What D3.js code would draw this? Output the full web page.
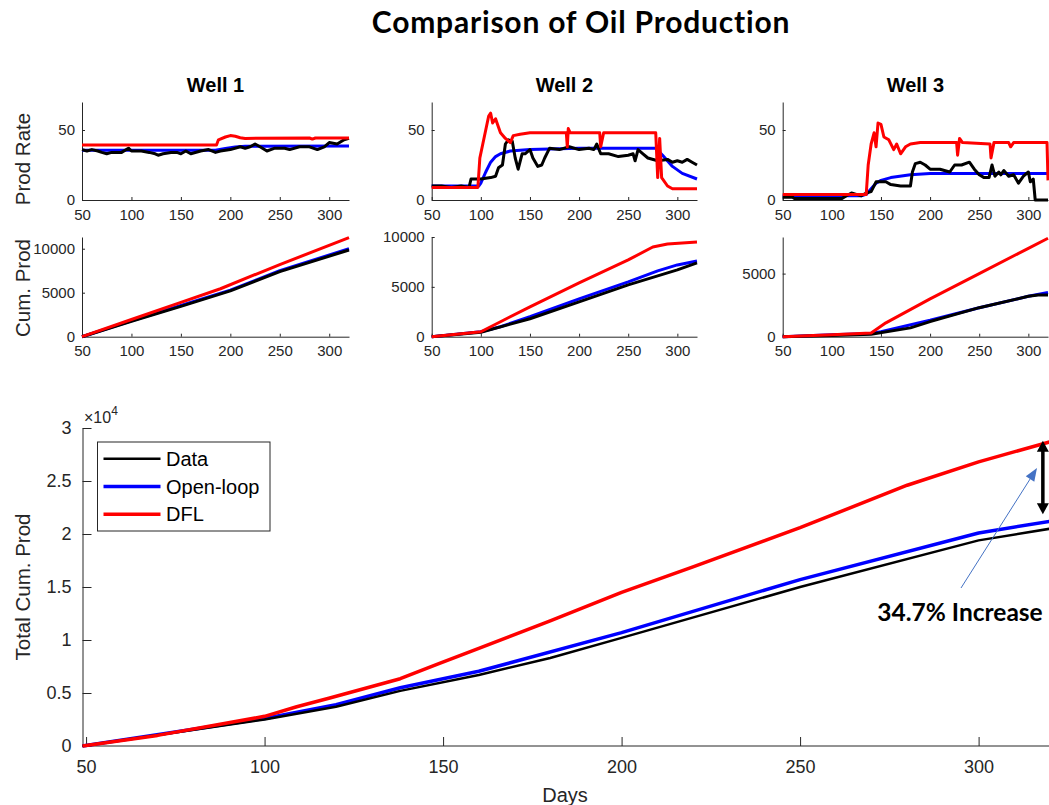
<!DOCTYPE html>
<html>
<head>
<meta charset="utf-8">
<script src="https://cdn.jsdelivr.net/npm/d3@7"></script>
<style>
body { margin: 0; background: #fff; }
text { font-family: "Liberation Sans", Arial, sans-serif; }
</style>
</head>
<body>
<div class="container"></div>
<script>
const wd = 1049
const ht = 805

// ---- data ----
const seriesNames = ["Data", "Open-loop", "DFL"]
const seriesCols = ["#000000", "#0000ff", "#ff0000"]
const wellNames = ["Well 1", "Well 2", "Well 3"]

// well 1 rate
const w1Data = [[50,36],[55,35],[60,36],[66,35],[70,34],[75,33],[80,34],[85,34],[90,34],[97,37],[100,35],[110,35],[118,34],[124,33],[127,32],[132,33],[140,34],[146,34],[150,33],[155,35],[160,33],[170,35],[178,36],[185,34],[190,35],[200,36],[210,38],[215,37],[220,38],[225,40],[230,38],[237,35],[245,37],[255,37],[260,36],[270,38],[280,38],[288,36],[295,38],[300,41],[308,40],[315,43],[320,44]]
const w1Open = [[50,35.5],[185,35.5],[195,36.8],[205,37.8],[215,38.4],[320,38.5]]
const w1Dfl = [[50,39.3],[186,39.3],[188,43],[195,45],[200,46],[205,45.5],[210,44.5],[215,44],[280,44.3],[283,43.5],[286,44.3],[320,44.3]]

// well 2 rate
const w2Data = [[50,10],[60,10],[70,9],[80,10],[88,9],[90,15],[100,15],[110,16],[115,17],[118,23],[122,25],[125,40],[128,43],[132,42],[135,30],[138,22],[142,33],[145,33],[150,36],[153,30],[158,24],[162,25],[165,30],[170,37],[180,36],[190,38],[200,36],[210,37],[215,36],[218,40],[222,33],[230,33],[240,31],[250,32],[255,33],[257,28],[260,36],[265,33],[270,30],[280,28],[290,29],[295,27],[300,28],[305,27],[310,29],[315,27],[320,25]]
const w2Open = [[50,10],[98,10],[100,12],[105,20],[110,27],[115,31],[120,33],[130,35],[150,36],[200,37],[278,37],[285,32],[295,24],[305,19],[320,15]]
const w2Dfl = [[50,9],[97,9],[99,30],[102,40],[105,50],[108,60],[110,62],[112,55],[115,58],[118,52],[120,48],[125,44],[130,41],[133,46],[140,47],[150,48],[187,48],[188,38],[189,51],[191,48],[221,48],[222,38],[225,48],[278,48],[280,16],[282,44],[284,16],[290,10],[295,8],[320,8]]

// well 3 rate
const w3Data = [[50,2],[60,2],[62,1],[80,1],[100,1],[110,1],[115,3],[120,5],[125,4],[130,3],[135,5],[140,6],[145,13],[155,13],[160,11],[170,10],[180,10],[182,20],[185,26],[190,27],[195,25],[200,22],[210,22],[220,20],[225,25],[232,25],[240,27],[245,22],[250,18],[255,16],[260,16],[263,25],[266,17],[270,20],[272,18],[275,21],[280,17],[285,18],[290,12],[295,17],[300,20],[302,13],[305,15],[307,0],[320,0]]
const w3Open = [[50,3],[130,3],[135,4],[140,8],[145,12],[150,14],[160,16],[180,18],[200,19],[320,19]]
const w3Dfl = [[50,4],[135,4],[137,25],[140,40],[143,48],[145,38],[147,55],[150,54],[153,45],[158,43],[163,36],[166,40],[170,33],[175,38],[180,40],[190,41],[227,41],[228,32],[230,44],[233,41],[261,40],[262,30],[265,41],[280,41],[282,38],[285,41],[319,41],[320,14]]

// cumulative per well
const c1Data = [[50,0],[100,1750],[150,3450],[200,5200],[250,7400],[320,9850]]
const c1Open = [[50,0],[100,1800],[150,3550],[200,5300],[250,7500],[320,10000]]
const c1Dfl = [[50,0],[100,1950],[150,3900],[190,5450],[250,8200],[320,11250]]
const c2Data = [[50,0],[100,450],[150,1800],[200,3500],[250,5200],[300,6700],[320,7400]]
const c2Open = [[50,0],[100,500],[120,1000],[150,2000],[200,3800],[250,5500],[280,6600],[300,7200],[320,7600]]
const c2Dfl = [[50,0],[100,500],[120,1500],[150,3000],[200,5400],[250,7700],[275,9000],[290,9300],[320,9500]]
const c3Data = [[50,0],[100,100],[140,200],[180,700],[200,1200],[250,2300],[300,3200],[310,3300],[320,3300]]
const c3Open = [[50,0],[100,150],[140,250],[150,400],[200,1300],[250,2300],[300,3200],[320,3500]]
const c3Dfl = [[50,0],[100,150],[140,300],[155,1100],[200,3000],[250,5000],[300,7000],[320,7800]]

// totals
const totData = [[49,0],[100,2500],[120,3700],[138,5200],[160,6700],[180,8300],[200,10200],[250,15000],[300,19400],[320,20500]]
const totOpen = [[49,0],[100,2600],[120,3900],[138,5500],[160,7050],[200,10700],[250,15700],[300,20100],[320,21200]]
const totDfl = [[49,0],[70,1000],[100,2800],[109,3700],[118,4500],[138,6350],[149,7800],[160,9200],[180,11800],[200,14500],[220,16900],[250,20600],[280,24600],[300,26800],[320,28700]]

const rateSets = [[w1Data, w1Open, w1Dfl], [w2Data, w2Open, w2Dfl], [w3Data, w3Open, w3Dfl]]
const cumSets = [[c1Data, c1Open, c1Dfl], [c2Data, c2Open, c2Dfl], [c3Data, c3Open, c3Dfl]]
const cumMax = [11330, 10000, 7900]
const cumTicks = [[0, 5000, 10000], [0, 5000, 10000], [0, 5000]]
const dayTicks = [50, 100, 150, 200, 250, 300]
const totTicks = [0, 5000, 10000, 15000, 20000, 25000, 30000]

const svgC = d3.select(".container")
  .append("svg")
  .attr("width", wd)
  .attr("height", ht)

const axCol = "#262626"

svgC.append("text")
  .attr("x", 581).attr("y", 33)
  .attr("text-anchor", "middle")
  .style("font-family", "Lato, 'Open Sans', sans-serif")
  .style("font-weight", "bold")
  .style("font-size", "30px")
  .style("letter-spacing", "0.8px")
  .text("Comparison of Oil Production")

const panelX = [[82, 349], [431.7, 697], [782.7, 1048]]

function styleAxis(g, fs) {
  g.select(".domain").attr("stroke", axCol)
  g.selectAll(".tick line").attr("stroke", axCol)
  g.selectAll(".tick text").attr("fill", axCol).style("font-size", fs)
  g.style("font-family", "'Liberation Sans', Arial, sans-serif")
}

function drawPanel(xr, yr, ydom, yticks, sets, lw) {
  const x = d3.scaleLinear().domain([50, 320]).range(xr)
  const y = d3.scaleLinear().domain(ydom).range(yr)
  const line = d3.line().x(d => x(d[0])).y(d => y(d[1]))

  const gx = svgC.append("g")
    .attr("transform", `translate(0,${yr[0]})`)
    .call(d3.axisBottom(x).tickValues(dayTicks).tickSizeInner(-3).tickSizeOuter(0).tickPadding(9))
  styleAxis(gx, "15px")
  const gy = svgC.append("g")
    .attr("transform", `translate(${xr[0]},0)`)
    .call(d3.axisLeft(y).tickValues(yticks).tickFormat(d3.format("d")).tickSizeInner(-3).tickSizeOuter(0).tickPadding(7))
  styleAxis(gy, "15px")

  // open-loop, data, then DFL on top
  ;[1, 0, 2].forEach(k => {
    svgC.append("path")
      .attr("d", line(sets[k]))
      .attr("fill", "none")
      .attr("stroke", seriesCols[k])
      .attr("stroke-width", lw)
      .attr("stroke-linejoin", "round")
  })
}

for (let i = 0; i < 3; i++) {
  const xr = panelX[i]
  svgC.append("text")
    .attr("x", (xr[0] + xr[1]) / 2).attr("y", 91.5)
    .attr("text-anchor", "middle")
    .style("font-weight", "bold")
    .style("font-size", "20px")
    .text(wellNames[i])
  drawPanel(xr, [200, 102], [0, 70], [0, 50], rateSets[i], 3)
  drawPanel(xr, [336.7, 237], [0, cumMax[i]], cumTicks[i], cumSets[i], 3)
}

svgC.append("text")
  .attr("transform", "translate(30,159) rotate(-90)")
  .attr("text-anchor", "middle")
  .attr("fill", axCol)
  .style("font-size", "20.5px")
  .text("Prod Rate")
svgC.append("text")
  .attr("transform", "translate(30,288) rotate(-90)")
  .attr("text-anchor", "middle")
  .attr("fill", axCol)
  .style("font-size", "20.5px")
  .text("Cum. Prod")

// ---- bottom panel ----
const xB = d3.scaleLinear().domain([49, 320]).range([82.5, 1050])
const yB = d3.scaleLinear().domain([0, 30000]).range([746, 428])
const lineB = d3.line().x(d => xB(d[0])).y(d => yB(d[1]))

const gxB = svgC.append("g")
  .attr("transform", "translate(0,746)")
  .call(d3.axisBottom(xB).tickValues(dayTicks).tickSizeInner(-9).tickSizeOuter(0).tickPadding(14))
styleAxis(gxB, "18px")
gxB.select(".domain").attr("d", `M${xB.range()[0]},0H${xB.range()[1]}`)
const gyB = svgC.append("g")
  .attr("transform", `translate(${xB.range()[0]},0)`)
  .call(d3.axisLeft(yB).tickValues(totTicks).tickFormat(d => d / 10000).tickSizeInner(-9).tickSizeOuter(0).tickPadding(11))
styleAxis(gyB, "18px")

svgC.append("text")
  .attr("x", 84).attr("y", 423)
  .attr("fill", axCol)
  .style("font-size", "16px")
  .text("×10")
  .append("tspan")
  .attr("dy", -8)
  .style("font-size", "12px")
  .text("4")

const totSets = [totData, totOpen, totDfl]
const totW = [2.5, 3.5, 3.5]
;[1, 0, 2].forEach(k => {
  svgC.append("path")
    .attr("d", lineB(totSets[k]))
    .attr("fill", "none")
    .attr("stroke", seriesCols[k])
    .attr("stroke-width", totW[k])
    .attr("stroke-linejoin", "round")
})

svgC.append("text")
  .attr("transform", "translate(30,587) rotate(-90)")
  .attr("text-anchor", "middle")
  .attr("fill", axCol)
  .style("font-size", "20.5px")
  .text("Total Cum. Prod")
svgC.append("text")
  .attr("x", 565).attr("y", 802)
  .attr("text-anchor", "middle")
  .attr("fill", axCol)
  .style("font-size", "20px")
  .text("Days")

// legend
const leg = svgC.append("g").attr("transform", "translate(97.5,442)")
leg.append("rect")
  .attr("width", 172.5).attr("height", 89)
  .attr("fill", "#fff").attr("stroke", axCol).attr("stroke-width", 1)
seriesNames.forEach((s, k) => {
  const yy = 16.7 + k * 27.8
  leg.append("line")
    .attr("x1", 6).attr("x2", 63).attr("y1", yy).attr("y2", yy)
    .attr("stroke", seriesCols[k]).attr("stroke-width", k === 0 ? 2.5 : 3.5)
  leg.append("text")
    .attr("x", 68.5).attr("y", yy + 7)
    .style("font-size", "20px")
    .text(s)
})

// annotation arrows
const lastDfl = totDfl[totDfl.length - 1]
const lastOpen = totOpen[totOpen.length - 1]
const ax = xB(318)
const ay1 = yB(lastDfl[1]) - 1
const ay2 = yB(lastOpen[1]) - 7
svgC.append("line")
  .attr("x1", ax).attr("x2", ax).attr("y1", ay1 + 8).attr("y2", ay2 - 8)
  .attr("stroke", "#000").attr("stroke-width", 3.5)
svgC.append("path")
  .attr("d", `M${ax},${ay1} L${ax - 6},${ay1 + 11} L${ax + 6},${ay1 + 11} Z`)
  .attr("fill", "#000")
svgC.append("path")
  .attr("d", `M${ax},${ay2} L${ax - 6},${ay2 - 11} L${ax + 6},${ay2 - 11} Z`)
  .attr("fill", "#000")

const bx1 = 961, by1 = 588, bx2 = 1037, by2 = 468
svgC.append("line")
  .attr("x1", bx1).attr("y1", by1).attr("x2", bx2 - 5).attr("y2", by2 + 8)
  .attr("stroke", "#4472C4").attr("stroke-width", 1)
const ang = Math.atan2(by2 - by1, bx2 - bx1)
const hl = 13, hw = 5
const hx = bx2 - hl * Math.cos(ang), hy = by2 - hl * Math.sin(ang)
svgC.append("path")
  .attr("d", `M${bx2},${by2} L${hx + hw * Math.sin(ang)},${hy - hw * Math.cos(ang)} L${hx - hw * Math.sin(ang)},${hy + hw * Math.cos(ang)} Z`)
  .attr("fill", "#4472C4")

svgC.append("text")
  .attr("x", 960).attr("y", 621)
  .attr("text-anchor", "middle")
  .style("font-family", "Lato, 'Open Sans', sans-serif")
  .style("font-weight", "bold")
  .style("font-size", "24.5px")
  .text("34.7% Increase")
</script>
</body>
</html>
